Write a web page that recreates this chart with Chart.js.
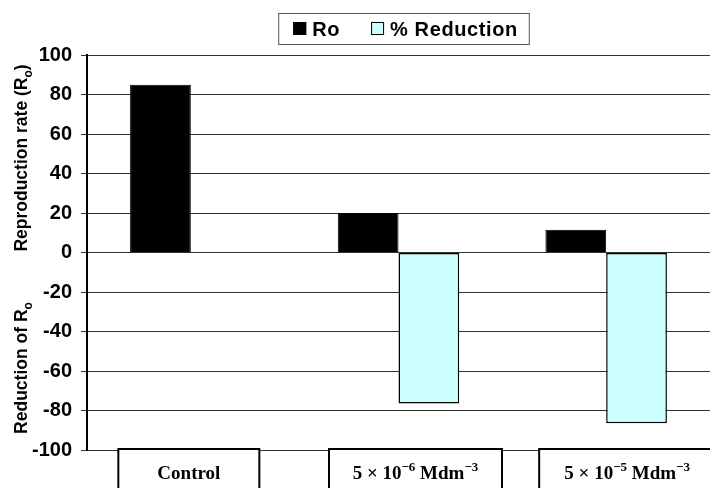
<!DOCTYPE html>
<html>
<head>
<meta charset="utf-8">
<script src="https://cdn.jsdelivr.net/npm/chart.js@4.4.0/dist/chart.umd.min.js"></script>
<style>
html,body{margin:0;padding:0;background:#fff;}
#stay_canvas{width:710px;height:488px;}
</style>
</head>
<body>
<div id="stay_canvas"><canvas id="grafico" width="710" height="488"></canvas></div>
<script>
// datos
var categorias = ["Control", "5 × 10^-6 Mdm^-3", "5 × 10^-5 Mdm^-3"];
var seriesNombres = ["Ro", "% Reduction"];
var valoresRo = [85, 20, 11.5];
var valoresReduccion = [null, -76.5, -86.5];
var ejeYmin = -100, ejeYmax = 100, ejeYpaso = 20;

var colorRo = "#000000";
var colorReduccion = "#CCFFFF";
var fuente = "'Liberation Sans', Arial, sans-serif";
var fuenteSerif = "'Liberation Serif', 'Times New Roman', serif";

// separa "10^-6" en partes normales y superindices
function partes(texto){
    var out = [];
    var trozos = texto.split(/(\^\S+)/);
    for(var i=0;i<trozos.length;i++){
        if(trozos[i]=="") continue;
        if(trozos[i].charAt(0)=="^"){
            out.push({t: trozos[i].substring(1).replace("-", "\u2212"), sup: true});
        } else {
            out.push({t: trozos[i], sup: false});
        }
    }
    return out;
}

// dibuja texto con sub/superindices, centrado en x
function textoRico(ctx, lista, x, y, fGrande, fChica){
    var ancho = 0;
    for(var i=0;i<lista.length;i++){
        ctx.font = (lista[i].sup || lista[i].sub) ? fChica : fGrande;
        lista[i].w = ctx.measureText(lista[i].t).width;
        ancho += lista[i].w;
    }
    var cx = x - ancho/2;
    ctx.textAlign = "left";
    ctx.textBaseline = "alphabetic";
    for(var j=0;j<lista.length;j++){
        var dy = 0;
        if(lista[j].sup) dy = -8;
        if(lista[j].sub) dy = 5;
        ctx.font = (lista[j].sup || lista[j].sub) ? fChica : fGrande;
        ctx.fillText(lista[j].t, cx, y + dy);
        cx += lista[j].w;
    }
    return ancho;
}

var plugin_decoracion = {
    id: 'decoracion',
    afterDraw: function(chart){
        var ctx = chart.ctx;
        var xs = chart.scales.x;
        var area = chart.chartArea;
        ctx.save();

        // titulos del eje y
        ctx.fillStyle = "#000";
        ctx.save();
        ctx.translate(27, 158);
        ctx.rotate(-Math.PI/2);
        textoRico(ctx, [{t:"Reproduction rate (R"},{t:"o",sub:true},{t:")"}], 0, 0,
            "bold 17.5px " + fuente, "bold 12px " + fuente);
        ctx.restore();
        ctx.save();
        ctx.translate(27, 368);
        ctx.rotate(-Math.PI/2);
        textoRico(ctx, [{t:"Reduction of R"},{t:"o",sub:true}], 0, 0,
            "bold 17.5px " + fuente, "bold 12px " + fuente);
        ctx.restore();

        // etiquetas de categoria en cajas
        var cajas = [{dx:-2, w:141}, {dx:17, w:173}, {dx:21, w:176}];
        for(var i=0;i<categorias.length;i++){
            var cx = xs.getPixelForValue(i) + cajas[i].dx;
            var top = area.bottom - 1;
            ctx.fillStyle = "#fff";
            ctx.fillRect(cx - cajas[i].w/2, top, cajas[i].w, 60);
            ctx.strokeStyle = "#000";
            ctx.lineWidth = 2;
            ctx.strokeRect(cx - cajas[i].w/2, top, cajas[i].w, 60);
            ctx.fillStyle = "#000";
            textoRico(ctx, partes(categorias[i]), cx, 479,
                "bold 19px " + fuenteSerif, "bold 13px " + fuenteSerif);
        }

        // leyenda con recuadro
        var fLeyenda = "bold 20px " + fuente;
        ctx.font = fLeyenda;
        ctx.letterSpacing = "0.6px";
        var colores = [colorRo, colorReduccion];
        var anchos = [];
        var total = 15 + 11;
        for(var k=0;k<seriesNombres.length;k++){
            anchos.push(ctx.measureText(seriesNombres[k]).width);
            total += 13 + 6 + anchos[k];
        }
        total += 31;
        var lx = (area.left + area.right)/2 + 5 - total/2;
        ctx.fillStyle = "#fff";
        ctx.fillRect(lx, 13, total, 31);
        ctx.strokeStyle = "#555";
        ctx.lineWidth = 1;
        ctx.strokeRect(lx + 0.5, 13.5, total, 31);
        var px = lx + 15;
        for(var m=0;m<seriesNombres.length;m++){
            ctx.fillStyle = colores[m];
            ctx.fillRect(px, 22, 13, 13);
            ctx.strokeStyle = "#000";
            ctx.lineWidth = 1;
            ctx.strokeRect(px + 0.5, 22.5, 12, 12);
            ctx.fillStyle = "#000";
            ctx.font = fLeyenda;
            ctx.textAlign = "left";
            ctx.textBaseline = "alphabetic";
            ctx.fillText(seriesNombres[m], px + 19, 36);
            px += 19 + anchos[m] + 31;
        }
        ctx.letterSpacing = "0px";
        ctx.restore();
    }
};

var ctx = document.getElementById('grafico').getContext('2d');
var chart = new Chart(ctx, {
    type: 'bar',
    data: {
        labels: categorias,
        datasets: [
            {
                label: seriesNombres[0],
                backgroundColor: colorRo,
                borderColor: "#000",
                borderWidth: 1,
                data: valoresRo
            },
            {
                label: seriesNombres[1],
                backgroundColor: colorReduccion,
                borderColor: "#000",
                borderWidth: 1.5,
                borderSkipped: false,
                data: valoresReduccion
            }
        ]
    },
    options: {
        responsive: false,
        animation: false,
        layout: {
            padding: {top: 55, left: 0, right: 0, bottom: 38}
        },
        datasets: {
            bar: {categoryPercentage: 0.585, barPercentage: 1}
        },
        plugins: {
            legend: {display: false},
            tooltip: {enabled: false},
            title: {display: false}
        },
        scales: {
            x: {
                display: false
            },
            y: {
                min: ejeYmin,
                max: ejeYmax,
                ticks: {
                    stepSize: ejeYpaso,
                    color: "#000",
                    padding: 9,
                    font: {family: fuente, size: 20, weight: 'bold'}
                },
                grid: {
                    color: "#333",
                    lineWidth: 1,
                    tickLength: 6
                },
                border: {display: true, color: "#000", width: 2},
                afterFit: function(scale){
                    scale.width = 87;
                }
            }
        }
    },
    plugins: [plugin_decoracion]
});
</script>
</body>
</html>
